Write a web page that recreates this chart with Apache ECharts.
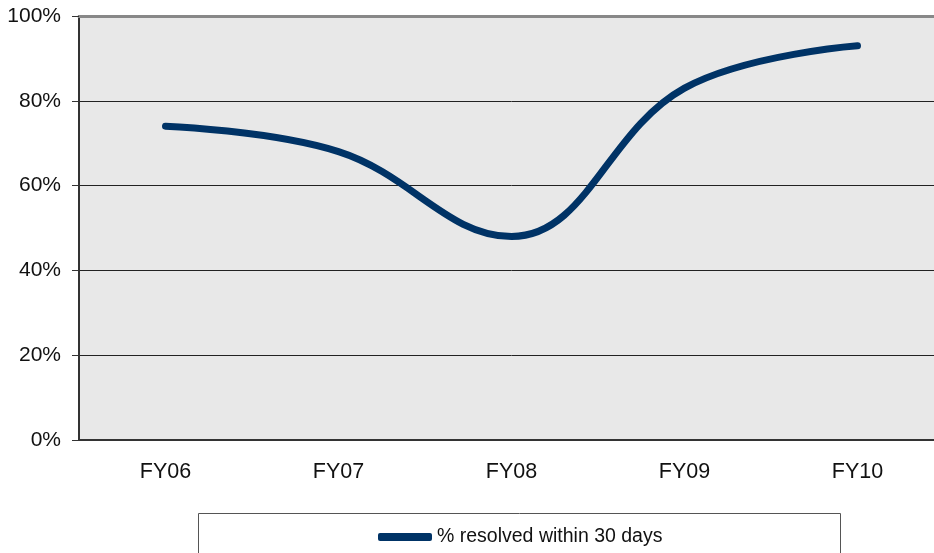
<!DOCTYPE html>
<html>
<head>
<meta charset="utf-8">
<script src="https://cdn.jsdelivr.net/npm/echarts@6/dist/echarts.min.js"></script>
<style>
html,body{margin:0;padding:0;background:#fff;overflow:hidden;}
#wrap{width:934px;height:553px;overflow:hidden;}
#chart{width:944px;height:553px;}
</style>
</head>
<body>
<div id="wrap"><div id="chart"></div></div>
<script>
// data
var years = ['FY06', 'FY07', 'FY08', 'FY09', 'FY10'];
var resolved = [74, 68, 48, 83, 93];
var yTicks = [0, 20, 40, 60, 80, 100];
var seriesName = '% resolved within 30 days';

// plot runs past the right edge of the picture, so the chart is a bit wider than the window
var chart = echarts.init(document.getElementById('chart'));
var font = 'Liberation Sans, Arial, sans-serif';

chart.setOption({
	animation: false,
	grid: {
		left: 79, top: 16, right: 0, bottom: 113,
		show: true, backgroundColor: '#e8e8e8', borderWidth: 0
	},
	legend: {
		data: [seriesName],
		left: 373, top: 522,
		icon: 'roundRect',
		itemWidth: 54, itemHeight: 8,
		textStyle: {fontFamily: font, fontSize: 19.5, color: '#111'}
	},
	graphic: [{
		type: 'rect',
		shape: {x: 198.5, y: 513.5, width: 642, height: 60},
		style: {fill: 'none', stroke: '#555', lineWidth: 1}
	}],
	xAxis: [{
		type: 'category',
		data: years,
		axisLine: {lineStyle: {color: '#333', width: 2}},
		axisTick: {length: 8, lineStyle: {color: '#333', width: 1}},
		axisLabel: {margin: 21, fontFamily: font, fontSize: 21.5, color: '#111'}
	}, {
		type: 'category',
		data: years,
		position: 'top',
		axisLine: {lineStyle: {color: '#888', width: 3}},
		axisTick: {show: false},
		axisLabel: {show: false}
	}],
	yAxis: {
		type: 'value',
		min: yTicks[0], max: yTicks[yTicks.length - 1], interval: 20,
		axisLine: {show: true, lineStyle: {color: '#333', width: 2}},
		axisTick: {show: true, length: 7, lineStyle: {color: '#333'}},
		axisLabel: {margin: 18, fontFamily: font, fontSize: 21, color: '#111', formatter: '{value}%'},
		splitLine: {lineStyle: {color: '#222', width: 1}}
	},
	series: [{
		name: seriesName,
		type: 'line',
		data: resolved,
		smooth: 0.4,
		showSymbol: false,
		symbol: 'none',
		lineStyle: {color: '#003366', width: 7, cap: 'round'},
		itemStyle: {color: '#003366'}
	}]
});
</script>
</body>
</html>
